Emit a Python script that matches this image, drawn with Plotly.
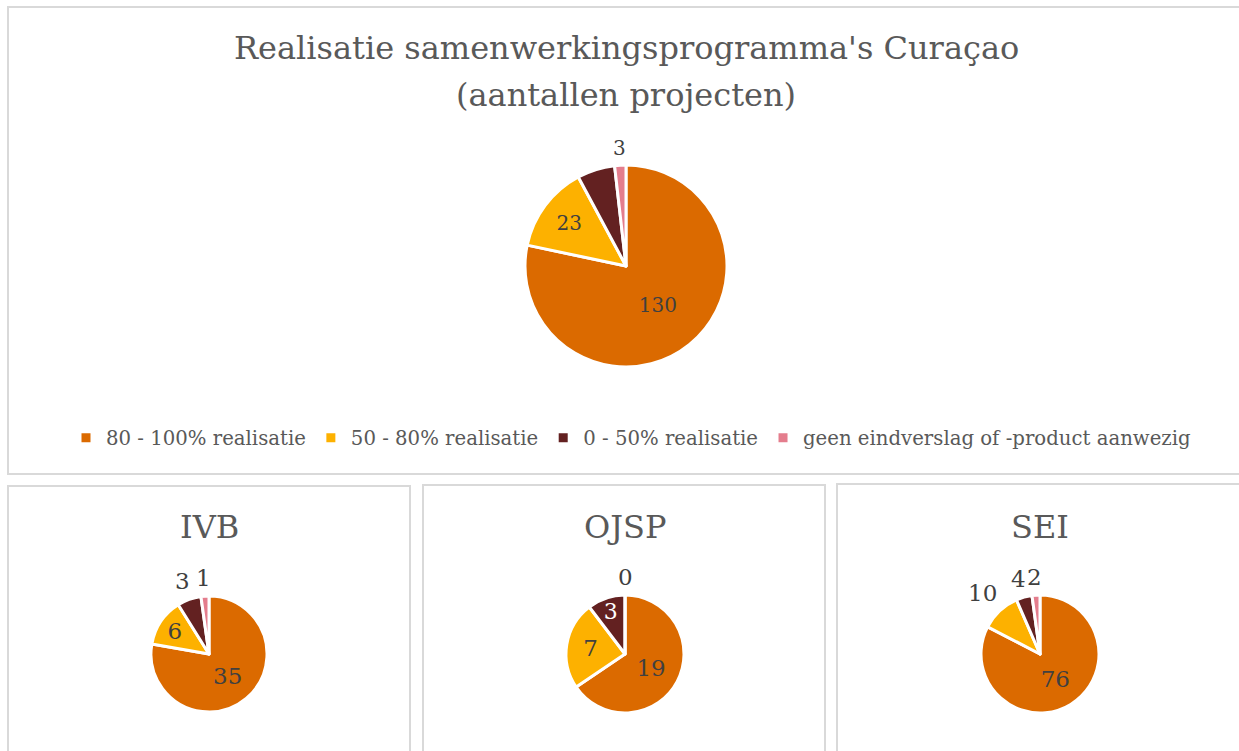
import math
import plotly.graph_objects as go

# categories and counts per programme
categories = ["80 - 100% realisatie", "50 - 80% realisatie", "0 - 50% realisatie",
              "geen eindverslag of -product aanwezig"]
totaal = [130, 23, 10, 3]
ivb = [35, 6, 3, 1]
ojsp = [19, 7, 3, 0]
sei = [76, 10, 4, 2]

colors = ["#DB6A00", "#FDB100", "#632121", "#E47D8D"]
FONT = "DejaVu Serif"
W, H = 1239, 751

fig = go.Figure()


def add_pie(vals, cx, cy, r, positions, size, show):
    # positions: 'inside', 'none' (hidden) or 'outside' (placed next to the slice)
    fig.add_trace(go.Pie(
        labels=categories, values=vals, text=[str(v) for v in vals],
        textinfo="text", sort=False, direction="clockwise", rotation=0,
        marker=dict(colors=colors, line=dict(color="white", width=3)),
        textposition=["inside" if p == "inside" else "none" for p in positions],
        insidetextfont=dict(color=["#404040", "#404040", "white", "#404040"], size=size, family=FONT),
        insidetextorientation="horizontal",
        domain=dict(x=[(cx - r) / W, (cx + r) / W], y=[1 - (cy + r) / H, 1 - (cy - r) / H]),
        showlegend=show, hoverinfo="label+value",
    ))
    # outside labels just beyond the middle of their slice, without leader lines
    total = sum(vals)
    cum = 0
    for v, p in zip(vals, positions):
        mid = (cum + v / 2) / total * 2 * math.pi
        cum += v
        if p != "outside":
            continue
        s, c = math.sin(mid), math.cos(mid)
        w, h = len(str(v)) * 0.6 * size, 0.85 * size
        d = r + 8 + abs(s) * w / 2 + abs(c) * h / 2
        fig.add_annotation(text=str(v), x=(cx + d * s) / W, y=1 - (cy - d * c) / H,
                           xref="paper", yref="paper", showarrow=False,
                           xanchor="center", yanchor="middle",
                           font=dict(family=FONT, size=size, color="#404040"))


add_pie(totaal, 626, 266, 101, ["inside", "inside", "none", "outside"], 20, True)
add_pie(ivb, 209, 654, 58, ["inside", "inside", "outside", "outside"], 23, False)
add_pie(ojsp, 625, 654, 59, ["inside", "inside", "inside", "outside"], 23, False)
add_pie(sei, 1040, 654, 59, ["inside", "outside", "outside", "outside"], 23, False)

# panel borders
border = dict(color="#D9D9D9", width=2)
for x0, y0, x1, y1 in [(8, 7, 1250, 474), (8, 486, 410, 770), (423, 485, 825, 770), (837, 484, 1250, 770)]:
    fig.add_shape(type="rect", xref="paper", yref="paper", x0=x0 / W, x1=x1 / W,
                  y0=1 - y1 / H, y1=1 - y0 / H, line=border, fillcolor="rgba(0,0,0,0)")

# titles
titles = [("Realisatie samenwerkingsprogramma's Curaçao", 626, 48), ("(aantallen projecten)", 626, 95),
          ("IVB", 209, 527), ("OJSP", 625, 527), ("SEI", 1040, 527)]
for txt, x, y in titles:
    fig.add_annotation(text=txt, x=x / W, y=1 - y / H, xref="paper", yref="paper",
                       showarrow=False, xanchor="center", yanchor="middle",
                       font=dict(family=FONT, size=32, color="#595959"))

fig.update_layout(
    width=W, height=H, margin=dict(l=0, r=0, t=0, b=0),
    paper_bgcolor="white", plot_bgcolor="white",
    font=dict(family=FONT, color="#595959"),
    legend=dict(orientation="h", x=631 / W, xanchor="center", y=1 - 438 / H, yanchor="middle",
                font=dict(family=FONT, size=19.7, color="#595959"), itemwidth=30,
                traceorder="normal"),
)

fig.write_html("out.html", config={"displayModeBar": False},
               post_script="document.body.style.margin='0';")
